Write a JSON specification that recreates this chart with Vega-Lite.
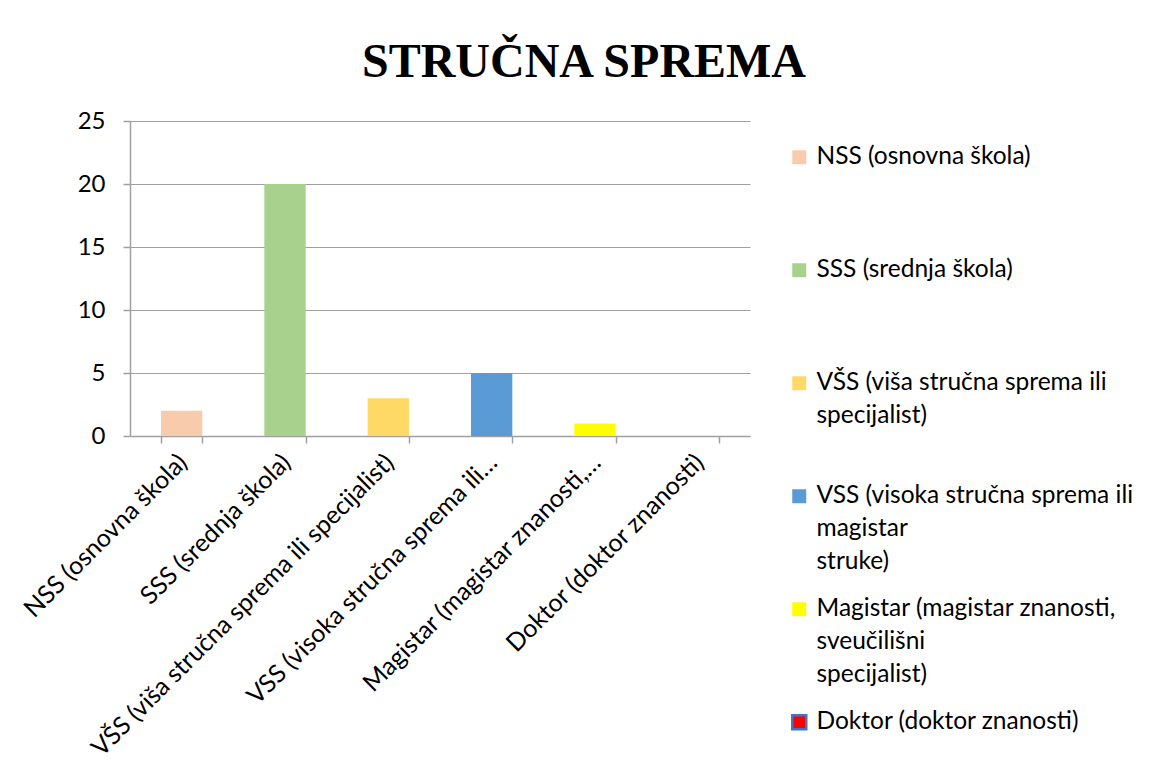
{
  "$schema": "https://vega.github.io/schema/vega-lite/v6.json",
  "autosize": "none",
  "width": 620,
  "height": 315,
  "padding": {"left": 130, "top": 121, "right": 399, "bottom": 344},
  "background": "white",
  "title": {
    "text": "STRUČNA SPREMA",
    "font": "Liberation Serif",
    "fontSize": 48,
    "fontWeight": "bold",
    "color": "black",
    "anchor": "middle",
    "frame": "group",
    "baseline": "alphabetic",
    "dx": 144,
    "offset": -16
  },
  "data": {
    "values": [
      {"kategorija": "NSS (osnovna škola)", "broj": 2},
      {"kategorija": "SSS (srednja škola)", "broj": 20},
      {"kategorija": "VŠS (viša stručna sprema ili specijalist)", "broj": 3},
      {"kategorija": "VSS (visoka stručna sprema ili magistar struke)", "broj": 5},
      {"kategorija": "Magistar (magistar znanosti, sveučilišni specijalist)", "broj": 1},
      {"kategorija": "Doktor (doktor znanosti)", "broj": 0}
    ]
  },
  "mark": {"type": "bar"},
  "encoding": {
    "x": {
      "field": "kategorija",
      "type": "nominal",
      "sort": null,
      "scale": {"paddingInner": 0.6, "paddingOuter": 0.3},
      "axis": {
        "title": null,
        "labelAngle": -45,
        "labelAlign": "right",
        "labelBaseline": "middle",
        "labelFont": "Lato",
        "labelFontSize": 25,
        "labelColor": "black",
        "labelLimit": 600,
        "labelPadding": 15,
        "labelOffset": 1,
        "tickBand": "extent",
        "tickSize": 7,
        "tickColor": "#a0a0a0",
        "domainColor": "#a0a0a0",
        "domainWidth": 1.5,
        "tickWidth": 1.5,
        "labelExpr": "datum.value == 'VSS (visoka stručna sprema ili magistar struke)' ? 'VSS (visoka stručna sprema ili…' : datum.value == 'Magistar (magistar znanosti, sveučilišni specijalist)' ? 'Magistar (magistar znanosti,…' : datum.value"
      }
    },
    "y": {
      "field": "broj",
      "type": "quantitative",
      "scale": {"domain": [0, 25], "nice": false},
      "axis": {
        "title": null,
        "values": [0, 5, 10, 15, 20, 25],
        "labelFont": "Lato",
        "labelFontSize": 24,
        "labelColor": "black",
        "labelPadding": 18,
        "tickSize": 7,
        "tickColor": "#a0a0a0",
        "tickWidth": 1.5,
        "domainColor": "#a0a0a0",
        "domainWidth": 1.5,
        "gridColor": "#a0a0a0",
        "gridWidth": 1.2
      }
    },
    "color": {
      "field": "kategorija",
      "type": "nominal",
      "sort": null,
      "scale": {
        "domain": [
          "NSS (osnovna škola)",
          "SSS (srednja škola)",
          "VŠS (viša stručna sprema ili specijalist)",
          "VSS (visoka stručna sprema ili magistar struke)",
          "Magistar (magistar znanosti, sveučilišni specijalist)",
          "Doktor (doktor znanosti)"
        ],
        "range": ["#f8cbad", "#a9d18e", "#ffd966", "#5b9bd5", "#ffff00", "#ff0000"]
      },
      "legend": {
        "title": null,
        "orient": "none",
        "legendX": 657,
        "legendY": 24,
        "padding": 0,
        "symbolType": "square",
        "symbolSize": 196,
        "symbolStrokeWidth": 0,
        "symbolOpacity": 1,
        "labelFont": "Lato",
        "labelFontSize": 24.5,
        "labelColor": "black",
        "labelLimit": 500,
        "labelOffset": 5,
        "labelBaseline": "middle",
        "gridAlign": "all",
        "rowPadding": 22,
        "labelExpr": "datum.value == 'VŠS (viša stručna sprema ili specijalist)' ? ['VŠS (viša stručna sprema ili', 'specijalist)'] : datum.value == 'VSS (visoka stručna sprema ili magistar struke)' ? ['VSS (visoka stručna sprema ili', 'magistar', 'struke)'] : datum.value == 'Magistar (magistar znanosti, sveučilišni specijalist)' ? ['Magistar (magistar znanosti,', 'sveučilišni', 'specijalist)'] : datum.value",
        "encode": {
          "labels": {"update": {"lineHeight": {"value": 33}}},
          "symbols": {
            "update": {
              "stroke": {"signal": "datum.value == 'Doktor (doktor znanosti)' ? '#4472c4' : 'transparent'"},
              "strokeWidth": {"signal": "datum.value == 'Doktor (doktor znanosti)' ? 2.5 : 0"}
            }
          }
        }
      }
    }
  },
  "config": {
    "view": {"stroke": null}
  }
}
